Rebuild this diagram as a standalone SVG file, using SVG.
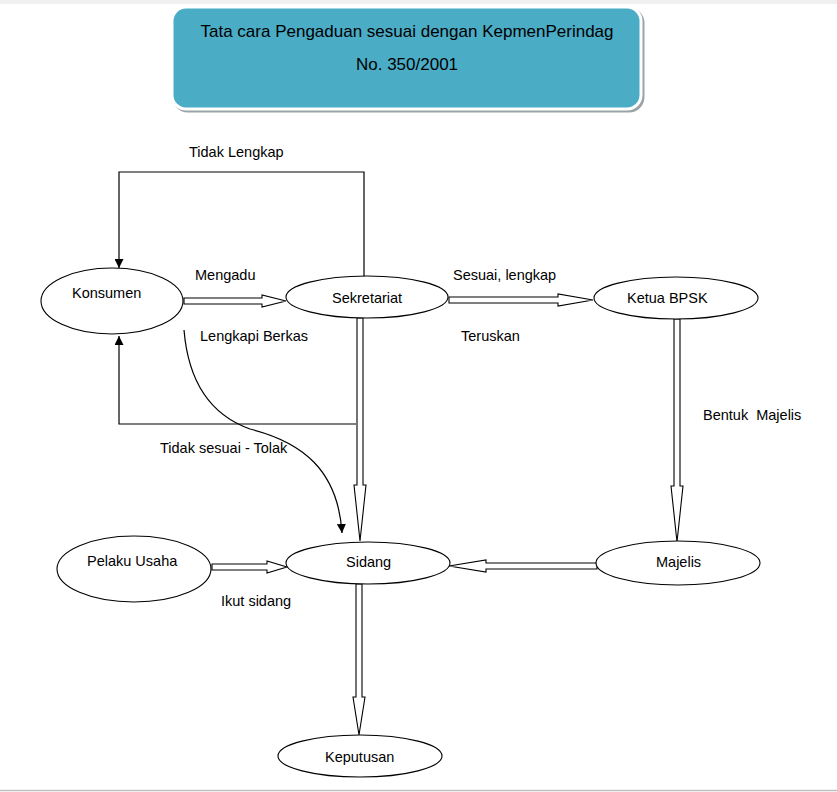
<svg xmlns="http://www.w3.org/2000/svg" width="837" height="792" viewBox="0 0 837 792">
<style>
  .node { fill: #ffffff; stroke: #000000; stroke-width: 1.1; }
  .lbl { font-family: "Liberation Sans", Arial, sans-serif; font-size: 14.5px; fill: #000000; }
  .ttl { font-family: "Liberation Sans", Arial, sans-serif; font-size: 17px; fill: #000000; text-anchor: middle; }
  .block { fill: #ffffff; stroke: #000000; stroke-width: 1.1; stroke-linejoin: miter; }
  .thin { fill: none; stroke: #000000; stroke-width: 1.2; }
</style>
<defs>
  <marker id="ah" viewBox="0 0 10 10" refX="10" refY="5" markerWidth="9" markerHeight="9" markerUnits="userSpaceOnUse" orient="auto">
    <path d="M0,0 L10,5 L0,10 Z" fill="#000000"/>
  </marker>
</defs>
<rect x="0" y="0" width="837" height="792" fill="#ffffff"/>
<rect x="0" y="0" width="837" height="4" fill="#f0f0f0"/>
<line x1="0" y1="790.5" x2="837" y2="790.5" stroke="#c0c0c0" stroke-width="1.5"/>

<g id="title">
  <rect x="174" y="9" width="469" height="102" rx="14" fill="#9aa3a8" stroke="#9aa3a8" stroke-width="3"/>
  <rect x="172" y="7" width="469" height="102" rx="14" fill="#4BACC6" stroke="#ffffff" stroke-width="3"/>
  <text class="ttl" x="407" y="37">Tata cara Pengaduan sesuai dengan KepmenPerindag</text>
  <text class="ttl" x="407" y="70">No. 350/2001</text>
</g>

<g id="connectors">
  <polygon class="block" points="184,298 262,298 262,295 286,301 262,307 262,304 184,304"/>
  <polygon class="block" points="449,297 558,297 558,294 593,300 558,306 558,303 449,303"/>
  <polygon class="block" points="357,318 357,485 354,485 360,541 366,485 363,485 363,318"/>
  <polygon class="block" points="674,319 674,486 671,486 677,542 683,486 680,486 680,319"/>
  <polygon class="block" points="597,563 486,563 486,560 449,566 486,572 486,569 597,569"/>
  <polygon class="block" points="212,564 267,564 267,561 287,567 267,573 267,570 212,570"/>
  <polygon class="block" points="356,584 356,697 353,697 359,735 365,697 362,697 362,584"/>
  <polyline class="thin" points="364,277 364,172 119,172 119,268" marker-end="url(#ah)"/>
  <polyline class="thin" points="356,424 119,424 119,336" marker-end="url(#ah)"/>
  <path class="thin" d="M184,330 C188,378 208,414 250,429 C302,442 338,470 342,533" marker-end="url(#ah)"/>
</g>

<g id="labels">
  <text class="lbl" x="189" y="157">Tidak Lengkap</text>
  <text class="lbl" x="195" y="280">Mengadu</text>
  <text class="lbl" x="200" y="341">Lengkapi Berkas</text>
  <text class="lbl" x="453" y="280">Sesuai, lengkap</text>
  <text class="lbl" x="461" y="341">Teruskan</text>
  <text class="lbl" x="160" y="453">Tidak sesuai - Tolak</text>
  <text class="lbl" x="703" y="420" xml:space="preserve">Bentuk  Majelis</text>
  <text class="lbl" x="221" y="606">Ikut sidang</text>
</g>

<g id="konsumen">
  <ellipse class="node" cx="112" cy="301" rx="71" ry="33"/>
  <text class="lbl" x="72" y="298">Konsumen</text>
</g>
<g id="sekretariat">
  <ellipse class="node" cx="367" cy="297" rx="81" ry="21"/>
  <text class="lbl" x="332" y="303">Sekretariat</text>
</g>
<g id="ketua-bpsk">
  <ellipse class="node" cx="676" cy="298" rx="82" ry="21"/>
  <text class="lbl" x="627" y="303">Ketua BPSK</text>
</g>
<g id="pelaku-usaha">
  <ellipse class="node" cx="134" cy="569" rx="77" ry="33"/>
  <text class="lbl" x="87" y="566">Pelaku Usaha</text>
</g>
<g id="sidang">
  <ellipse class="node" cx="368" cy="563" rx="82" ry="21"/>
  <text class="lbl" x="346" y="567">Sidang</text>
</g>
<g id="majelis">
  <ellipse class="node" cx="678" cy="563" rx="82" ry="22"/>
  <text class="lbl" x="656" y="567">Majelis</text>
</g>
<g id="keputusan">
  <ellipse class="node" cx="360" cy="756" rx="82" ry="21"/>
  <text class="lbl" x="325" y="762">Keputusan</text>
</g>
</svg>
